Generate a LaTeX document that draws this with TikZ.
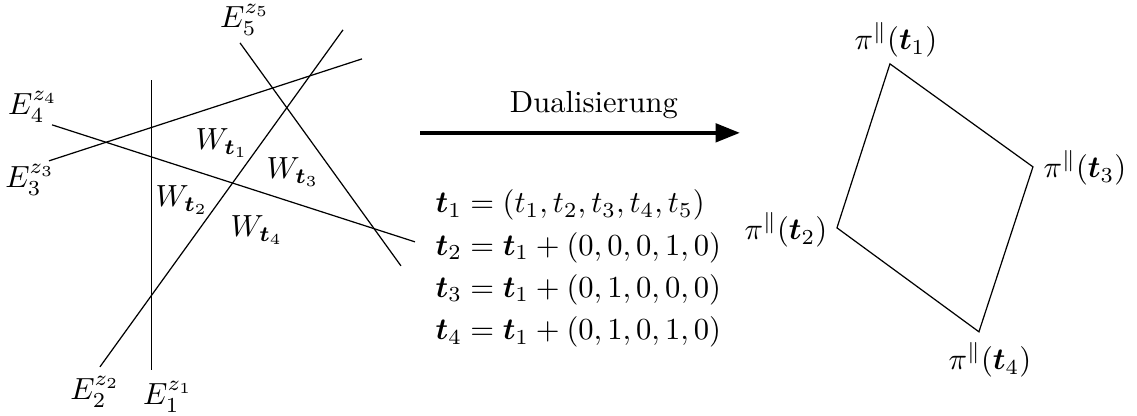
\documentclass[tikz,border=0pt]{standalone}
\usepackage{amsmath, amssymb}
\usepackage{tikz}
\usetikzlibrary{arrows.meta, positioning, calc}

\begin{document}
\begin{tikzpicture}[>=Stealth, every node/.style={inner sep=0pt},
  lbl/.style={font=\normalsize},
  dualpfeil/.style={line width=1.3pt, -{Triangle[length=8pt,width=6pt]}}]
  \useasboundingbox (0,0) rectangle (13.07,4.78);

  % Geraden E_1 ... E_5
  \coordinate (e1a) at (1.744,0.529);  \coordinate (e1b) at (1.744,3.862);
  \coordinate (e2a) at (1.149,0.563);  \coordinate (e2b) at (3.943,4.437);
  \coordinate (e3a) at (0.563,2.931);  \coordinate (e3b) at (4.161,4.103);
  \coordinate (e4a) at (0.598,3.345);  \coordinate (e4b) at (4.770,2.000);
  \coordinate (e5a) at (2.759,4.287);  \coordinate (e5b) at (4.609,1.724);
  \draw (e1a) -- (e1b);
  \draw (e2a) -- (e2b);
  \draw (e3a) -- (e3b);
  \draw (e4a) -- (e4b);
  \draw (e5a) -- (e5b);

  % Beschriftung der Geraden
  \node[lbl] (le1) at (1.931,0.218) {$E_1^{z_1}$};
  \node[lbl] (le2) at (1.092,0.276) {$E_2^{z_2}$};
  \node[lbl] (le3) at (0.345,2.713) {$E_3^{z_3}$};
  \node[lbl] (le4) at (0.379,3.552) {$E_4^{z_4}$};
  \node[lbl] (le5) at (2.816,4.552) {$E_5^{z_5}$};

  % Zellen
  \node[lbl] (w1) at (2.552,3.138) {$W_{\boldsymbol{t}_1}$};
  \node[lbl] (w2) at (2.092,2.483) {$W_{\boldsymbol{t}_2}$};
  \node[lbl] (w3) at (3.368,2.805) {$W_{\boldsymbol{t}_3}$};
  \node[lbl] (w4) at (2.954,2.138) {$W_{\boldsymbol{t}_4}$};

  % Pfeil
  \coordinate (pa) at (4.828,3.253);
  \coordinate (pb) at (8.506,3.253);
  \draw[dualpfeil] (pa) -- (pb);
  \node[lbl] (dual) at (6.828,3.575) {Dualisierung};

  % Gleichungen
  \node[lbl, anchor=west] (gl) at (5.0,1.69) {\setlength{\jot}{1.8pt}$\begin{aligned}
    \boldsymbol{t}_1 &= (t_1,t_2,t_3,t_4,t_5)\\
    \boldsymbol{t}_2 &= \boldsymbol{t}_1 + (0,0,0,1,0)\\
    \boldsymbol{t}_3 &= \boldsymbol{t}_1 + (0,1,0,0,0)\\
    \boldsymbol{t}_4 &= \boldsymbol{t}_1 + (0,1,0,1,0)
  \end{aligned}$};

  % Viereck
  \coordinate (p1) at (10.230,4.046);
  \coordinate (p3) at (11.874,2.862);
  \coordinate (p4) at (11.253,0.966);
  \coordinate (p2) at (9.621,2.161);
  \draw (p1) -- (p3) -- (p4) -- (p2) -- cycle;
  \node[lbl] (q1) at (10.299,4.322) {$\pi^{\|}(\boldsymbol{t}_1)$};
  \node[lbl] (q2) at (9.034,2.138) {$\pi^{\|}(\boldsymbol{t}_2)$};
  \node[lbl] (q3) at (12.471,2.851) {$\pi^{\|}(\boldsymbol{t}_3)$};
  \node[lbl] (q4) at (11.379,0.644) {$\pi^{\|}(\boldsymbol{t}_4)$};
\end{tikzpicture}
\end{document}
